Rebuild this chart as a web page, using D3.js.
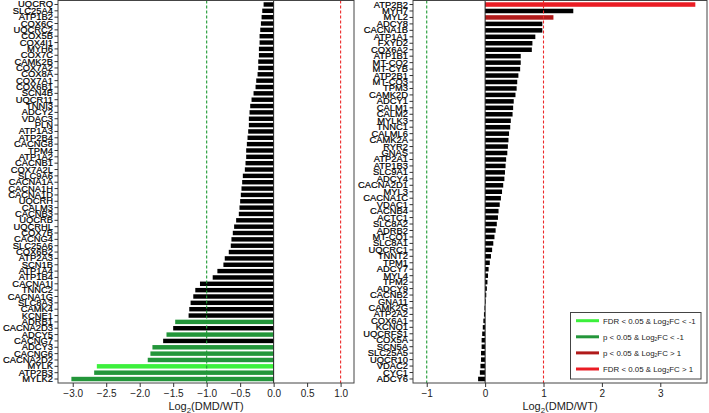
<!DOCTYPE html>
<html>
<head>
<meta charset="utf-8">
<script src="https://cdn.jsdelivr.net/npm/d3@7/dist/d3.min.js"></script>
<style>
  html, body { margin: 0; padding: 0; background: #fff; }
  svg { display: block; font-family: "Liberation Sans", Arial, sans-serif; }
</style>
</head>
<body>
<svg id="chart" width="709" height="413"></svg>
<script>
// ---------- DATA ----------
const leftGenes = ["UQCRQ","SLC25A4","ATP1B2","COX6C","UQCRC2","COX5B","COX4I1","MYH6","COX7C","CAMK2B",
  "COX7A2","COX8A","COX7A1","COX6B1","SCN4B","UQCR11","TNNI3","ADCY2","VDAC3","PLN",
  "ATP1A3","ATP2B4","CACNG8","TPM4","ATP1A2","CACNB1","COX7A2L","SLC9A6","CACNA1A","CACNA1H",
  "CACNA1D","UQCRH","CALM3","CACNB3","UQCRB","UQCRHL","COX7B","CACNG4","SLC25A6","COX6B2",
  "ATP2A3","SCN1B","ATP1A4","ATP1B4","CACNA1I","TNNC2","CACNA1G","SLC8A3","CAMK4","KCNE1",
  "ADRB1","CACNA2D3","ADCY5","CACNG7","ADCY3","CACNG6","CACNA2D2","MYLK","ATP2B3","MYLK2"];
const leftValues = [-0.15,-0.17,-0.18,-0.19,-0.20,-0.21,-0.21,-0.22,-0.22,-0.23,
  -0.23,-0.24,-0.26,-0.27,-0.30,-0.33,-0.35,-0.36,-0.37,-0.37,
  -0.38,-0.39,-0.40,-0.41,-0.41,-0.42,-0.43,-0.46,-0.47,-0.48,
  -0.49,-0.50,-0.51,-0.52,-0.56,-0.59,-0.61,-0.63,-0.64,-0.67,
  -0.73,-0.75,-0.84,-0.91,-1.10,-1.17,-1.20,-1.24,-1.26,-1.27,
  -1.47,-1.50,-1.60,-1.65,-1.81,-1.84,-1.88,-2.64,-2.68,-3.02];
const leftSig = ["ns","ns","ns","ns","ns","ns","ns","ns","ns","ns",
  "ns","ns","ns","ns","ns","ns","ns","ns","ns","ns",
  "ns","ns","ns","ns","ns","ns","ns","ns","ns","ns",
  "ns","ns","ns","ns","ns","ns","ns","ns","ns","ns",
  "ns","ns","ns","ns","ns","ns","ns","ns","ns","ns",
  "pDown","ns","pDown","ns","pDown","pDown","pDown","fdrDown","pDown","pDown"];

const rightGenes = ["ATP2B2","MYH7","MYL2","ADCY8","CACNA1B","ATP1A1","FXYD2","COX6A2","ATP1B1","MT-CO2",
  "MT-CYB","ATP2B1","MT-CO3","TPM3","CAMK2D","ADCY1","CALM1","CALM2","MYLK3","TNNC1",
  "CALML6","CAMK2A","RYR2","GNAS","ATP2A1","ATP1B3","SLC9A1","ADCY4","CACNA2D1","MYL3",
  "CACNA1C","VDAC1","CACNB4","ACTC1","SLC8A2","ADRB2","MT-CO1","SLC8A1","UQCRC1","TNNT2",
  "TPM1","ADCY7","MYL4","TPM2","ADCY9","CACNB2","GNA11","CAMK2G","ATP2A2","COX6A1",
  "KCNQ1","UQCRFS1","COX5A","SCN5A","SLC25A5","UQCR10","VDAC2","CYC1","ADCY6"];
const rightValues = [3.60,1.51,1.17,0.98,0.98,0.86,0.81,0.80,0.61,0.61,
  0.60,0.57,0.55,0.54,0.52,0.49,0.48,0.47,0.44,0.43,
  0.41,0.40,0.39,0.38,0.36,0.35,0.34,0.33,0.31,0.29,
  0.27,0.25,0.23,0.22,0.20,0.18,0.16,0.14,0.12,0.10,
  0.08,0.06,0.05,0.04,0.03,0.02,0.01,-0.01,-0.02,-0.03,
  -0.04,-0.05,-0.06,-0.06,-0.07,-0.07,-0.08,-0.09,-0.12];
const rightSig = ["fdrUp","ns","pUp"].concat(new Array(56).fill("ns"));

const leftTicks = [-3.0,-2.5,-2.0,-1.5,-1.0,-0.5,0.0,0.5,1.0];
const rightTicks = [-1,0,1,2,3];
const thresholds = [-1, 1];

const legendKeys = ["fdrDown","pDown","pUp","fdrUp"];
const legendLabels = [
  ["FDR < 0.05 & Log","FC < -1"],
  ["p < 0.05 & Log","FC < -1"],
  ["p < 0.05 & Log","FC > 1"],
  ["FDR < 0.05 & Log","FC > 1"]];

// ---------- STYLE ----------
const colors = {ns:"#000000", pDown:"#23963a", fdrDown:"#3cf03c", pUp:"#b01a1a", fdrUp:"#ea1c24"};
const threshColor = {"-1":"#1f9a34", "1":"#ee2a2a"};

const svg = d3.select("#chart");
const plotTop = 0.5, plotBottom = 383;

function panel(genes, values, sig, domain, x0, x1, ticks, fmt) {
  const g = svg.append("g");
  const x = d3.scaleLinear().domain(domain).range([x0, x1]);
  const y = d3.scaleBand().domain(genes).range([1.3, 382.2]).paddingInner(0.3).paddingOuter(0.15);

  // bars
  g.selectAll("rect.bar").data(genes).join("rect")
    .attr("class","bar")
    .attr("x", (d,i) => Math.min(x(0), x(values[i])))
    .attr("width", (d,i) => Math.abs(x(values[i]) - x(0)))
    .attr("y", d => y(d))
    .attr("height", y.bandwidth())
    .attr("fill", (d,i) => colors[sig[i]]);

  // zero line
  g.append("line").attr("x1", x(0)).attr("x2", x(0)).attr("y1", plotTop).attr("y2", plotBottom)
    .attr("stroke","#222").attr("stroke-width",1);

  // threshold lines
  thresholds.forEach(t => {
    g.append("line").attr("x1", x(t)).attr("x2", x(t)).attr("y1", plotTop).attr("y2", plotBottom)
      .attr("stroke", threshColor[String(t)]).attr("stroke-width",1.1)
      .attr("stroke-dasharray","3,2");
  });

  // box
  g.append("rect").attr("x", x0).attr("y", plotTop).attr("width", x1 - x0).attr("height", plotBottom - plotTop)
    .attr("fill","none").attr("stroke","#444").attr("stroke-width",1);

  // y axis
  const ya = d3.axisLeft(y).tickSize(3.5).tickPadding(1.5);
  const yg = g.append("g").attr("transform", `translate(${x0},0)`).call(ya);
  yg.select(".domain").remove();
  yg.selectAll(".tick line").attr("stroke","#333");
  yg.selectAll(".tick text").attr("font-size","9.4px").attr("fill","#000")
    .attr("stroke","#000").attr("stroke-width",0.2)
    .attr("font-family","'Liberation Sans', Arial, sans-serif");

  // x axis
  const xa = d3.axisBottom(x).tickValues(ticks).tickSize(4).tickPadding(3).tickFormat(fmt);
  const xg = g.append("g").attr("transform", `translate(0,${plotBottom})`).call(xa);
  xg.select(".domain").remove();
  xg.selectAll(".tick line").attr("stroke","#333");
  xg.selectAll(".tick text").attr("font-size","10px").attr("fill","#222")
    .attr("font-family","'Liberation Sans', Arial, sans-serif");

  // x title
  const t = g.append("text").attr("x", (x0 + x1) / 2).attr("y", 410)
    .attr("text-anchor","middle").attr("font-size","11px").attr("fill","#222");
  t.append("tspan").text("Log");
  t.append("tspan").attr("font-size","7.8px").attr("dy", 2.5).text("2");
  t.append("tspan").attr("dy", -2.5).text("(DMD/WT)");
  return x;
}

const fmt1 = d => d3.format(".1f")(d).replace("-", "\u2212");
const fmt0 = d => d3.format("d")(d).replace("-", "\u2212");

panel(leftGenes, leftValues, leftSig, [-3.22, 1.2], 58, 354, leftTicks, fmt1);
panel(rightGenes, rightValues, rightSig, [-1.235, 3.8], 413, 707, rightTicks, fmt0);

// legend
const lg = svg.append("g");
lg.append("rect").attr("x", 570.5).attr("y", 312.5).attr("width", 130.5).attr("height", 66.5)
  .attr("fill","#fff").attr("stroke","#444").attr("stroke-width",1);
const ly = d3.scalePoint().domain(legendKeys).range([320.7, 369]);
legendKeys.forEach((k, i) => {
  lg.append("line").attr("x1", 576).attr("x2", 599).attr("y1", ly(k)).attr("y2", ly(k))
    .attr("stroke", colors[k]).attr("stroke-width", 3);
  const t = lg.append("text").attr("x", 603).attr("y", ly(k) + 2.8)
    .attr("font-size","7.9px").attr("fill","#222");
  t.append("tspan").text(legendLabels[i][0]);
  t.append("tspan").attr("font-size","5px").attr("dy", 1.5).text("2");
  t.append("tspan").attr("dy", -1.5).text(legendLabels[i][1]);
});
</script>
</body>
</html>
